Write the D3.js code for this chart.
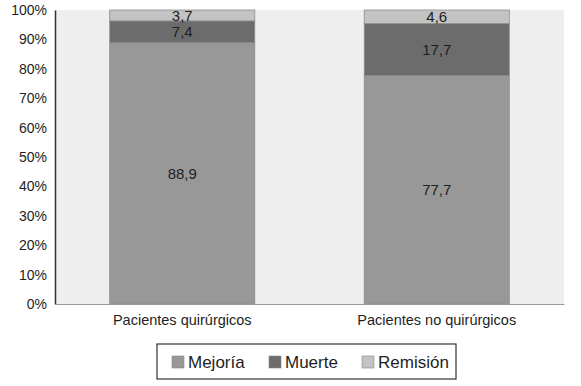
<!DOCTYPE html>
<html>
<head>
<meta charset="utf-8">
<script src="https://cdn.jsdelivr.net/npm/d3@7"></script>
<style>
  body { margin: 0; background: #fff; }
  svg { font-family: "Liberation Sans", Arial, sans-serif; }
</style>
</head>
<body>
<div id="chart"></div>
<script>
// data
const categories = ["Pacientes quirúrgicos", "Pacientes no quirúrgicos"];
const seriesNames = ["Mejoría", "Muerte", "Remisión"];
const mejoria = [88.9, 77.7];
const muerte = [7.4, 17.7];
const remision = [3.7, 4.6];
const yTicks = [0, 10, 20, 30, 40, 50, 60, 70, 80, 90, 100];

const colors = ["#989898", "#6c6c6c", "#c3c3c3"];

const width = 581, height = 386;
const margin = {top: 10, right: 17, bottom: 82, left: 55};

const svg = d3.select("#chart").append("svg")
    .attr("width", width)
    .attr("height", height);

const x = d3.scaleBand()
    .domain(categories)
    .range([margin.left, width - margin.right])
    .paddingInner(0.43)
    .paddingOuter(0.215);

const y = d3.scaleLinear()
    .domain([0, 100])
    .range([height - margin.bottom, margin.top]);

// plot background
svg.append("rect")
    .attr("x", margin.left)
    .attr("y", margin.top)
    .attr("width", width - margin.left - margin.right)
    .attr("height", y(0) - margin.top)
    .attr("fill", "#eeeeee");

// stacked rows
const rows = categories.map((c, i) => ({
    cat: c, "Mejoría": mejoria[i], "Muerte": muerte[i], "Remisión": remision[i]
}));
const stack = d3.stack().keys(seriesNames)(rows);

const layer = svg.selectAll(".layer")
    .data(stack)
    .enter().append("g")
    .attr("class", "layer")
    .attr("fill", (d, i) => colors[i]);

layer.selectAll("rect")
    .data(d => d)
    .enter().append("rect")
    .attr("x", d => x(d.data.cat))
    .attr("y", d => y(d[1]))
    .attr("width", x.bandwidth())
    .attr("height", d => y(d[0]) - y(d[1]))
    .attr("stroke", "#8c8c8c")
    .attr("stroke-width", 0.8);

// value labels
stack.forEach(s => {
    svg.selectAll(null)
        .data(s)
        .enter().append("text")
        .attr("x", d => x(d.data.cat) + x.bandwidth() / 2)
        .attr("y", d => y((d[0] + d[1]) / 2))
        .attr("dy", "0.36em")
        .attr("text-anchor", "middle")
        .attr("font-size", 15)
        .attr("fill", "#1e1e1e")
        .text(d => d3.format(".1f")(d[1] - d[0]).replace(".", ","));
});

// y axis
const yAxis = svg.append("g")
    .attr("transform", "translate(" + margin.left + ",0)")
    .call(d3.axisLeft(y).tickValues(yTicks).tickSize(0).tickPadding(8)
        .tickFormat(d => d + "%"));
yAxis.select(".domain").attr("stroke", "#333").attr("stroke-width", 1.5);
yAxis.selectAll("text").attr("font-size", 14).attr("fill", "#1e1e1e")
    .attr("font-family", "Liberation Sans, Arial, sans-serif");

// x axis
const xAxis = svg.append("g")
    .attr("transform", "translate(0," + y(0) + ")")
    .call(d3.axisBottom(x).tickSize(0).tickPadding(11));
xAxis.select(".domain").attr("stroke", "#999");
xAxis.selectAll("text").attr("font-size", 14.5).attr("fill", "#1e1e1e")
    .attr("font-family", "Liberation Sans, Arial, sans-serif");

// legend
const legend = svg.append("g").attr("transform", "translate(157,344)");
legend.append("rect")
    .attr("width", 299)
    .attr("height", 35)
    .attr("fill", "#fff")
    .attr("stroke", "#333")
    .attr("stroke-width", 1.2);

const legendX = [15, 112, 205];
const item = legend.selectAll(".item")
    .data(seriesNames)
    .enter().append("g")
    .attr("class", "item")
    .attr("transform", (d, i) => "translate(" + legendX[i] + ",12)");
item.append("rect")
    .attr("width", 12)
    .attr("height", 12)
    .attr("fill", (d, i) => colors[i])
    .attr("stroke", "#888")
    .attr("stroke-width", 0.6);
item.append("text")
    .attr("x", 16)
    .attr("y", 6)
    .attr("dy", "0.36em")
    .attr("font-size", 17)
    .attr("fill", "#1e1e1e")
    .text(d => d);
</script>
</body>
</html>
